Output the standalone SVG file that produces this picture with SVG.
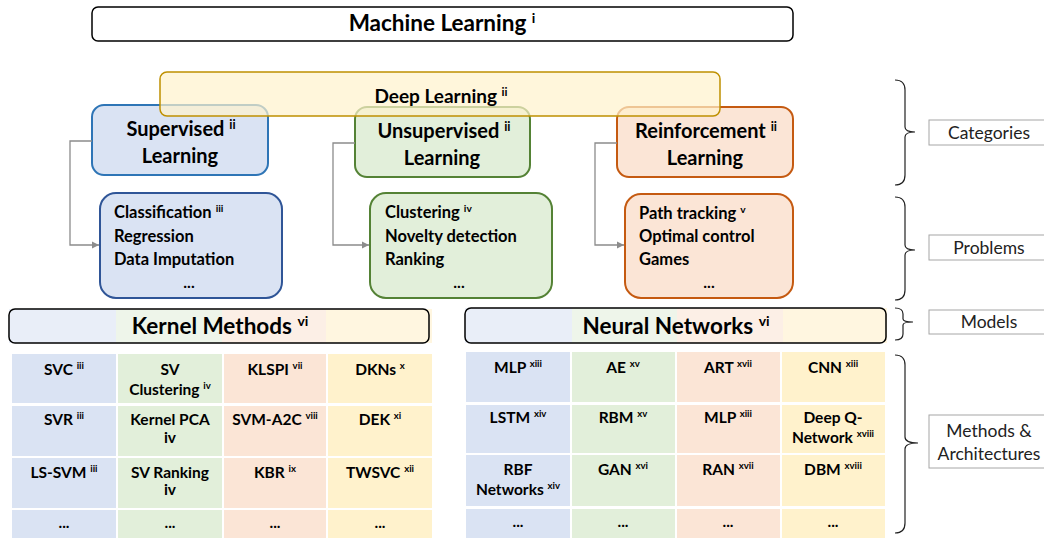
<svg xmlns="http://www.w3.org/2000/svg" width="1044" height="540" viewBox="0 0 1044 540">
<defs>
<style>
text{font-family:Lato,"Liberation Sans",sans-serif;fill:#000}
.b{font-weight:bold}
.sup{font-size:62%}
.cell{font-size:15.5px;font-weight:bold;text-anchor:middle}
.lbl{font-size:17.5px;text-anchor:middle;fill:#222}
.lblbox{fill:#fff;stroke:#a6a6a6;stroke-width:1}
.brace{fill:none;stroke:#222;stroke-width:1.2}
.conn{fill:none;stroke:#8c8c8c;stroke-width:1.3}
.blue{fill:#dae3f3}.green{fill:#e2efda}.orange{fill:#fbe5d6}.yellow{fill:#fff2cc}
.lblue{fill:#e9eef8}.lgreen{fill:#eef5ea}.lorange{fill:#fcefe6}.lyellow{fill:#fff6e0}
</style>
<marker id="arr" markerWidth="8" markerHeight="8" refX="7" refY="4" orient="auto" markerUnits="userSpaceOnUse">
<path d="M0,0.5 L7,4 L0,7.5 z" fill="#8c8c8c"/>
</marker>
</defs>

<g id="machine-learning">
<rect x="92" y="7" width="701" height="34" rx="6" fill="#fff" stroke="#000" stroke-width="1.5"/>
<text x="442" y="31" class="b" font-size="22.5" text-anchor="middle">Machine Learning <tspan class="sup" dy="-8">i</tspan></text>
</g>

<g id="supervised">
<rect x="92" y="105" width="176" height="70" rx="12" fill="#dae3f3" stroke="#2e75b6" stroke-width="2"/>
<text x="181" y="136" class="b" font-size="20" text-anchor="middle">Supervised <tspan class="sup" dy="-7">ii</tspan></text>
<text x="180" y="163" class="b" font-size="20" text-anchor="middle">Learning</text>
</g>

<g id="unsupervised">
<rect x="355" y="107" width="175" height="70" rx="12" fill="#e2efda" stroke="#548235" stroke-width="2"/>
<text x="444" y="138" class="b" font-size="20" text-anchor="middle">Unsupervised <tspan class="sup" dy="-7">ii</tspan></text>
<text x="442" y="165" class="b" font-size="20" text-anchor="middle">Learning</text>
</g>

<g id="reinforcement">
<rect x="617" y="107" width="176" height="70" rx="12" fill="#fbe5d6" stroke="#c55a11" stroke-width="2"/>
<text x="706" y="138" class="b" font-size="20" text-anchor="middle">Reinforcement <tspan class="sup" dy="-7">ii</tspan></text>
<text x="705" y="165" class="b" font-size="20" text-anchor="middle">Learning</text>
</g>

<g id="deep-learning">
<rect x="160" y="72" width="560" height="44" rx="7" fill="#fff2cc" fill-opacity="0.7" stroke="#bf9000" stroke-width="1.5"/>
<text x="441" y="103" class="b" font-size="19" text-anchor="middle">Deep Learning <tspan class="sup" dy="-7">ii</tspan></text>
</g>

<g id="connectors">
<path class="conn" d="M92,141 H70 V245 H99" marker-end="url(#arr)"/>
<path class="conn" d="M355,143 H333 V245 H369" marker-end="url(#arr)"/>
<path class="conn" d="M617,143 H595 V245 H624" marker-end="url(#arr)"/>
</g>

<g id="problems-supervised">
<rect x="100" y="193" width="182" height="105" rx="16" fill="#dae3f3" stroke="#2f5597" stroke-width="2"/>
<text x="114" y="218" class="b" font-size="16.5">Classification <tspan class="sup" dy="-6">iii</tspan></text>
<text x="114" y="242" class="b" font-size="16.5">Regression</text>
<text x="114" y="265" class="b" font-size="16.5">Data Imputation</text>
<text x="189" y="288" class="b" font-size="16" text-anchor="middle">...</text>
</g>

<g id="problems-unsupervised">
<rect x="370" y="193" width="182" height="105" rx="16" fill="#e2efda" stroke="#548235" stroke-width="2"/>
<text x="385" y="218" class="b" font-size="16.5">Clustering <tspan class="sup" dy="-6">iv</tspan></text>
<text x="385" y="242" class="b" font-size="16.5">Novelty detection</text>
<text x="385" y="265" class="b" font-size="16.5">Ranking</text>
<text x="459" y="288" class="b" font-size="16" text-anchor="middle">...</text>
</g>

<g id="problems-reinforcement">
<rect x="625" y="194" width="168" height="104" rx="16" fill="#fbe5d6" stroke="#c55a11" stroke-width="2"/>
<text x="639" y="219" class="b" font-size="16.5">Path tracking <tspan class="sup" dy="-6">v</tspan></text>
<text x="639" y="242" class="b" font-size="16.5">Optimal control</text>
<text x="639" y="265" class="b" font-size="16.5">Games</text>
<text x="709" y="288" class="b" font-size="16" text-anchor="middle">...</text>
</g>

<g id="kernel-methods">
<rect x="9" y="309" width="107" height="34" class="lblue"/>
<rect x="116" y="309" width="106" height="34" class="lgreen"/>
<rect x="222" y="309" width="104" height="34" class="lorange"/>
<rect x="326" y="309" width="106" height="34" class="lyellow"/>
<rect x="9" y="309" width="420" height="34" rx="6" fill="none" stroke="#000" stroke-width="1.5"/>
<text x="220" y="334" class="b" font-size="22.5" text-anchor="middle">Kernel Methods <tspan class="sup" dy="-8">vi</tspan></text>
</g>

<g id="neural-networks">
<rect x="465" y="308" width="107" height="35" class="lblue"/>
<rect x="572" y="308" width="105" height="35" class="lgreen"/>
<rect x="677" y="308" width="106" height="35" class="lorange"/>
<rect x="783" y="308" width="104" height="35" class="lyellow"/>
<rect x="465" y="308" width="421" height="35" rx="6" fill="none" stroke="#000" stroke-width="1.5"/>
<text x="676" y="334" class="b" font-size="22.5" text-anchor="middle">Neural Networks <tspan class="sup" dy="-8">vi</tspan></text>
</g>

<g id="kernel-table">
<rect x="12" y="354" width="104" height="49" class="blue"/>
<rect x="118" y="354" width="104" height="49" class="green"/>
<rect x="224" y="354" width="102" height="49" class="orange"/>
<rect x="328" y="354" width="104" height="49" class="yellow"/>
<rect x="12" y="406" width="104" height="50" class="blue"/>
<rect x="118" y="406" width="104" height="50" class="green"/>
<rect x="224" y="406" width="102" height="50" class="orange"/>
<rect x="328" y="406" width="104" height="50" class="yellow"/>
<rect x="12" y="458" width="104" height="50" class="blue"/>
<rect x="118" y="458" width="104" height="50" class="green"/>
<rect x="224" y="458" width="102" height="50" class="orange"/>
<rect x="328" y="458" width="104" height="50" class="yellow"/>
<rect x="12" y="510" width="104" height="28" class="blue"/>
<rect x="118" y="510" width="104" height="28" class="green"/>
<rect x="224" y="510" width="102" height="28" class="orange"/>
<rect x="328" y="510" width="104" height="28" class="yellow"/>
<text x="64" y="375" class="cell">SVC <tspan class="sup" dy="-6">iii</tspan></text>
<text x="170" y="375" class="cell">SV</text>
<text x="170" y="395" class="cell">Clustering <tspan class="sup" dy="-6">iv</tspan></text>
<text x="275" y="375" class="cell">KLSPI <tspan class="sup" dy="-6">vii</tspan></text>
<text x="380" y="375" class="cell">DKNs <tspan class="sup" dy="-6">x</tspan></text>
<text x="64" y="425" class="cell">SVR <tspan class="sup" dy="-6">iii</tspan></text>
<text x="170" y="425" class="cell">Kernel PCA</text>
<text x="170" y="443" class="cell" font-size="10">iv</text>
<text x="275" y="425" class="cell">SVM-A2C <tspan class="sup" dy="-6">viii</tspan></text>
<text x="380" y="425" class="cell">DEK <tspan class="sup" dy="-6">xi</tspan></text>
<text x="64" y="478" class="cell">LS-SVM <tspan class="sup" dy="-6">iii</tspan></text>
<text x="170" y="478" class="cell">SV Ranking</text>
<text x="170" y="495" class="cell" font-size="10">iv</text>
<text x="275" y="478" class="cell">KBR <tspan class="sup" dy="-6">ix</tspan></text>
<text x="380" y="478" class="cell">TWSVC <tspan class="sup" dy="-6">xii</tspan></text>
<text x="64" y="528" class="cell">...</text>
<text x="170" y="528" class="cell">...</text>
<text x="275" y="528" class="cell">...</text>
<text x="380" y="528" class="cell">...</text>
</g>

<g id="nn-table">
<rect x="466" y="352" width="104" height="50" class="blue"/>
<rect x="572" y="352" width="103" height="50" class="green"/>
<rect x="677" y="352" width="103" height="50" class="orange"/>
<rect x="782" y="352" width="103" height="50" class="yellow"/>
<rect x="466" y="405" width="104" height="48" class="blue"/>
<rect x="572" y="405" width="103" height="48" class="green"/>
<rect x="677" y="405" width="103" height="48" class="orange"/>
<rect x="782" y="405" width="103" height="48" class="yellow"/>
<rect x="466" y="455" width="104" height="51" class="blue"/>
<rect x="572" y="455" width="103" height="51" class="green"/>
<rect x="677" y="455" width="103" height="51" class="orange"/>
<rect x="782" y="455" width="103" height="51" class="yellow"/>
<rect x="466" y="509" width="104" height="29" class="blue"/>
<rect x="572" y="509" width="103" height="29" class="green"/>
<rect x="677" y="509" width="103" height="29" class="orange"/>
<rect x="782" y="509" width="103" height="29" class="yellow"/>
<text x="518" y="373" class="cell">MLP <tspan class="sup" dy="-6">xiii</tspan></text>
<text x="623" y="373" class="cell">AE <tspan class="sup" dy="-6">xv</tspan></text>
<text x="728" y="373" class="cell">ART <tspan class="sup" dy="-6">xvii</tspan></text>
<text x="833" y="373" class="cell">CNN <tspan class="sup" dy="-6">xiii</tspan></text>
<text x="518" y="423" class="cell">LSTM <tspan class="sup" dy="-6">xiv</tspan></text>
<text x="623" y="423" class="cell">RBM <tspan class="sup" dy="-6">xv</tspan></text>
<text x="728" y="423" class="cell">MLP <tspan class="sup" dy="-6">xiii</tspan></text>
<text x="833" y="423" class="cell">Deep Q-</text>
<text x="833" y="443" class="cell">Network <tspan class="sup" dy="-6">xviii</tspan></text>
<text x="518" y="475" class="cell">RBF</text>
<text x="518" y="495" class="cell">Networks <tspan class="sup" dy="-6">xiv</tspan></text>
<text x="623" y="475" class="cell">GAN <tspan class="sup" dy="-6">xvi</tspan></text>
<text x="728" y="475" class="cell">RAN <tspan class="sup" dy="-6">xvii</tspan></text>
<text x="833" y="475" class="cell">DBM <tspan class="sup" dy="-6">xviii</tspan></text>
<text x="518" y="527" class="cell">...</text>
<text x="623" y="527" class="cell">...</text>
<text x="728" y="527" class="cell">...</text>
<text x="833" y="527" class="cell">...</text>
</g>

<g id="label-categories">
<path class="brace" d="M895,80 Q905,80 905,90 L905,127 Q905,132 915,132 Q905,132 905,137 L905,175 Q905,185 895,185"/>
<rect x="929" y="120" width="120" height="25" class="lblbox"/>
<text x="989" y="139" class="lbl">Categories</text>
</g>
<g id="label-problems">
<path class="brace" d="M895,197 Q905,197 905,207 L905,245 Q905,250 915,250 Q905,250 905,255 L905,290 Q905,300 895,300"/>
<rect x="929" y="235" width="120" height="25" class="lblbox"/>
<text x="989" y="254" class="lbl">Problems</text>
</g>
<g id="label-models">
<path class="brace" d="M895,308 Q903,308 903,314 L903,319 Q903,322 913,322 Q903,322 903,325 L903,334 Q903,340 895,340"/>
<rect x="929" y="310" width="120" height="24" class="lblbox"/>
<text x="989" y="328" class="lbl">Models</text>
</g>
<g id="label-methods">
<path class="brace" d="M895,355 Q905,355 905,365 L905,437 Q905,443 918,443 Q905,443 905,449 L905,523 Q905,533 895,533"/>
<rect x="929" y="415" width="120" height="53" class="lblbox"/>
<text x="989" y="437" class="lbl">Methods &amp;</text>
<text x="989" y="460" class="lbl">Architectures</text>
</g>
</svg>
